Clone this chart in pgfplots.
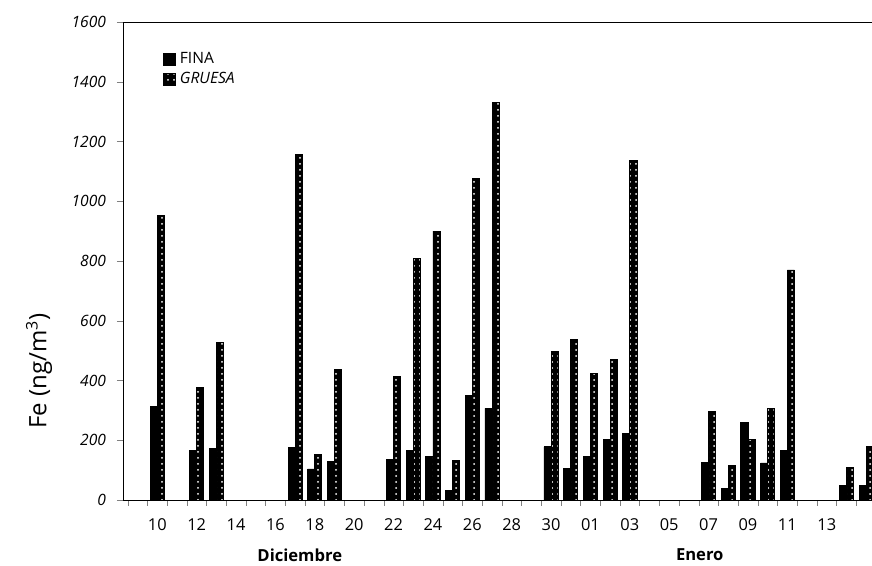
\documentclass[border=0pt]{standalone}
\usepackage{fontspec}
\setmainfont{Open Sans}
\usepackage{pgfplots}
\usepackage{pgfplotstable}
\pgfplotsset{compat=1.18}
\usetikzlibrary{patterns}

% day index: Dec 10 = 10 ... Dec 31 = 31, Jan 1 = 32, ... Jan 15 = 46
\pgfplotstableread{
x f g
10 312 952
12 165 377
13 174 527
17 176 1156
18 104 153
19 129 438
22 137 415
23 167 809
24 147 900
25 33 133
26 351 1077
27 307 1332
30 178 497
31 105 538
32 145 425
33 203 470
34 223 1138
38 127 295
39 38 117
40 259 204
41 124 307
42 167 770
45 49 108
46 49 178
}\datatable

\begin{document}
\begin{tikzpicture}
\useasboundingbox (-61.5pt,-33pt) rectangle (374.5pt,250pt);
\begin{axis}[
  scale only axis, width=374.5pt, height=239pt,
  xmin=8.26, xmax=46.3, ymin=0, ymax=1600,
  clip mode=individual,
  axis lines*=left,
  tick align=outside,
  ybar, bar width=0.36,
  xtick={10,12,...,44},
  xticklabels={10,12,14,16,18,20,22,24,26,28,30,01,03,05,07,09,11,13},
  minor xtick={8.5,9.5,...,46.5},
  major x tick style={draw=none},
  minor tick length=3pt, major tick length=3pt,
  ytick={0,200,...,1600},
  /pgf/number format/assume math mode=true,
  /pgf/number format/1000 sep={},
  xticklabel style={font=\fontsize{8.2}{9}\selectfont, yshift=-3pt},
  yticklabel style={font=\fontsize{7.8}{9}\selectfont\itshape, xshift=-2pt},
  ylabel={Fe (ng/m\textsuperscript{3})},
  every axis y label/.style={at={(axis description cs:-0.112,0.27)}, rotate=90, anchor=center, font=\fontsize{12}{14}\selectfont},
  legend style={at={(axis description cs:0.045,0.955)}, anchor=north west, draw=none, fill=none,
     font=\fontsize{7.8}{9}\selectfont, row sep=-1pt, legend cell align=left},
  legend image code/.code={\draw[#1] (0pt,-3pt) rectangle (6pt,3pt);},
]
\addplot[fill=black, draw=black, bar shift=-0.18] table[x=x, y=f] {\datatable};
\addplot[fill=black, draw=black, bar shift=0.18, postaction={pattern=dots, pattern color=white}] table[x=x, y=g] {\datatable};
\legend{FINA, \textit{GRUESA}}
\draw (rel axis cs:0,1) -- (rel axis cs:1,1);
\node[font=\fontsize{8.3}{10}\selectfont\bfseries] at (axis description cs:0.236,0) [yshift=-27.5pt] {Diciembre};
\node[font=\fontsize{8.3}{10}\selectfont\bfseries] at (axis description cs:0.770,0) [yshift=-27.5pt] {Enero};
\end{axis}
\end{tikzpicture}
\end{document}
